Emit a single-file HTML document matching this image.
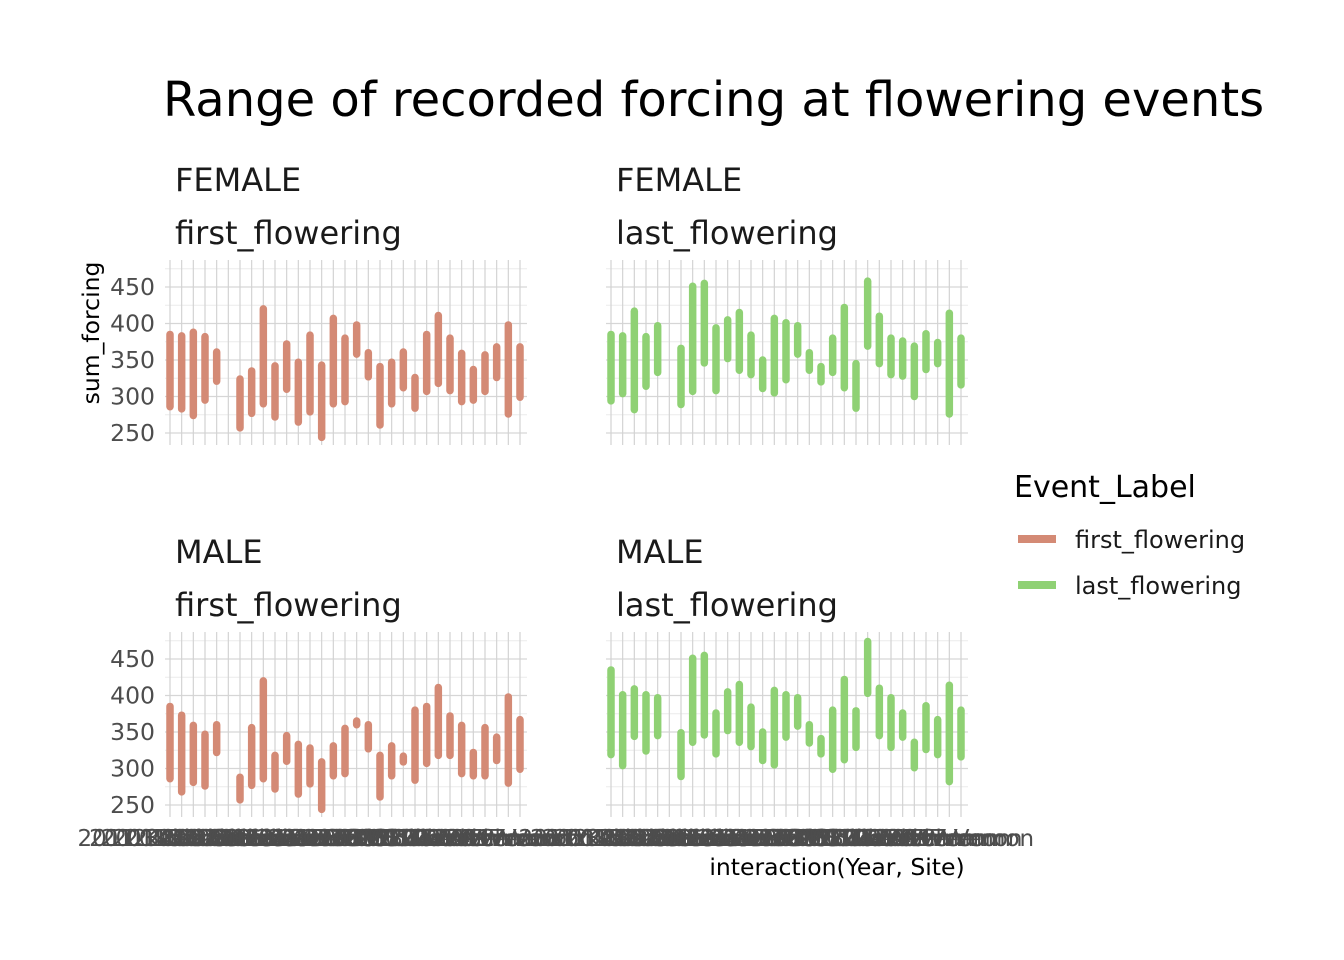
<!DOCTYPE html>
<html><head><meta charset="utf-8"><style>
html,body{margin:0;padding:0;background:#fff;}
svg{display:block;font-family:"DejaVu Sans","Liberation Sans",sans-serif;}
</style></head><body>
<svg id="chart" width="1344" height="960" viewBox="0 0 1344 960">
<text x="163" y="116" font-size="48" fill="#000">Range of recorded forcing at flowering events</text>
<text transform="translate(99,333) rotate(-90)" text-anchor="middle" font-size="23.5" fill="#000">sum_forcing</text>
<text x="837" y="875" text-anchor="middle" font-size="23.5" fill="#000">interaction(Year, Site)</text>
<g>
<text x="1014" y="497" font-size="30" fill="#000">Event_Label</text>
<line x1="1018" x2="1056" y1="539" y2="539" stroke="#d48a75" stroke-width="8"/>
<text x="1075" y="548" font-size="24" fill="#1a1a1a">first_flowering</text>
<line x1="1018" x2="1056" y1="585" y2="585" stroke="#8fd174" stroke-width="8"/>
<text x="1075" y="594" font-size="24" fill="#1a1a1a">last_flowering</text>
</g>
<g id="panels"></g>
</svg>
<script>
const categories = ["2011.Kalamalka","2012.Kalamalka","2013.Kalamalka","2014.Kalamalka","2015.Kalamalka","2006.Sorrento","2007.Sorrento","2008.Sorrento","2009.Sorrento","2010.Sorrento","2011.Sorrento","2012.Sorrento","2013.PGTIS","2014.PGTIS","2015.PGTIS","2016.PGTIS","2017.PGTIS","2018.PGTIS","2019.Tolko","2020.Tolko","2007.Trench","2008.Trench","2009.Trench","2010.Trench","2011.Vernon","2012.Vernon","2013.Vernon","2014.Vernon","2015.Vernon","2016.Vernon","2017.Vernon"];
const yTicks = [250,300,350,400,450];
const fFirstHi = [385,383,388,382,361,null,324,335,420,342,372,347,384,343,407,380,398,360,341,347,361,326,385,411,380,359,337,357,368,398,368];
const fFirstLo = [286,283,274,295,321,null,257,277,290,272,310,265,279,244,290,293,358,327,261,290,312,284,307,318,308,293,295,307,326,276,299];
const fLastHi = [385,383,417,382,397,null,366,451,455,394,405,415,384,350,407,401,397,360,341,380,422,345,458,410,380,376,369,386,374,414,380];
const fLastLo = [294,304,282,314,333,null,289,307,346,308,352,336,330,311,305,323,358,336,320,333,312,284,369,345,330,328,300,337,345,276,316];
const mFirstHi = [385,373,359,347,360,null,288,356,420,318,345,333,328,309,331,355,365,360,318,331,317,380,385,411,372,359,322,356,343,398,367];
const mFirstLo = [286,268,281,276,322,null,257,277,286,272,310,265,279,244,290,293,360,327,261,290,309,284,307,318,318,293,290,290,311,280,299];
const mLastHi = [435,401,409,401,397,null,349,451,455,376,405,415,384,350,407,401,397,360,341,380,422,379,474,410,397,376,336,386,367,414,380];
const mLastLo = [319,304,344,324,345,null,289,336,346,320,352,336,330,311,305,343,358,335,320,299,312,329,403,345,329,343,301,326,319,282,316];

const NS = "http://www.w3.org/2000/svg";
const root = document.getElementById("panels");
function mk(tag, attrs, parent){const e=document.createElementNS(NS,tag);for(const k in attrs)e.setAttribute(k,attrs[k]);parent.appendChild(e);return e;}

const panelDefs = [
 {x0:170, y450:287, hi:fFirstHi, lo:fFirstLo, color:"#d48a75", sex:"FEMALE", ev:"first_flowering", yl:true, xl:false, name:"female-first"},
 {x0:611, y450:287, hi:fLastHi, lo:fLastLo, color:"#8fd174", sex:"FEMALE", ev:"last_flowering", yl:false, xl:false, name:"female-last"},
 {x0:170, y450:659, hi:mFirstHi, lo:mFirstLo, color:"#d48a75", sex:"MALE", ev:"first_flowering", yl:true, xl:true, name:"male-first"},
 {x0:611, y450:659, hi:mLastHi, lo:mLastLo, color:"#8fd174", sex:"MALE", ev:"last_flowering", yl:false, xl:true, name:"male-last"}
];
const step = 350/30, pxPer = 0.73;
panelDefs.forEach(p=>{
  const g = mk("g",{},root);
  
  
  const xs = i => p.x0 + i*step;
  const ys = v => p.y450 + (450 - v)*pxPer;
  const top = ys(487), bot = ys(233.5), left = p.x0 - 5, right = p.x0 + 350 + 7;
  for (let v=275; v<=475; v+=50){
    const l = mk("line",{x1:left,x2:right,y1:ys(v),y2:ys(v),stroke:"#ececec","stroke-width":1},g);
    
    
  }
  yTicks.forEach(v=>{
    const l = mk("line",{x1:left,x2:right,y1:ys(v),y2:ys(v),stroke:"#d6d6d6","stroke-width":1.2},g);
    
    
    if (p.yl){
      const t = mk("text",{x:155,y:ys(v)+8,"text-anchor":"end","font-size":23.5,fill:"#4d4d4d"},g);
      t.textContent = v;
      
      
    }
  });
  categories.forEach((c,i)=>{
    const l = mk("line",{x1:xs(i),x2:xs(i),y1:top,y2:bot,stroke:"#d3d3d3","stroke-width":1.2},g);
    
    
  });
  categories.forEach((c,i)=>{
    if (p.hi[i]==null) return;
    const b = mk("line",{x1:xs(i),x2:xs(i),y1:ys(p.hi[i]),y2:ys(p.lo[i]),stroke:p.color,"stroke-width":7.5,"stroke-linecap":"round"},g);
    
    
  });
  if (p.xl){
    categories.forEach((c,i)=>{
      const t = mk("text",{x:xs(i),y:846,"text-anchor":"middle","font-size":23,fill:"#4d4d4d"},g);
      t.textContent = c;
      
      
    });
  }
  const s1 = mk("text",{x:p.x0+5,y:p.y450-96,"font-size":32,fill:"#1a1a1a"},g);
  s1.textContent = p.sex;
  
  
  const s2 = mk("text",{x:p.x0+5,y:p.y450-43,"font-size":32,fill:"#1a1a1a"},g);
  s2.textContent = p.ev;
  
  
});
</script>
</body></html>
